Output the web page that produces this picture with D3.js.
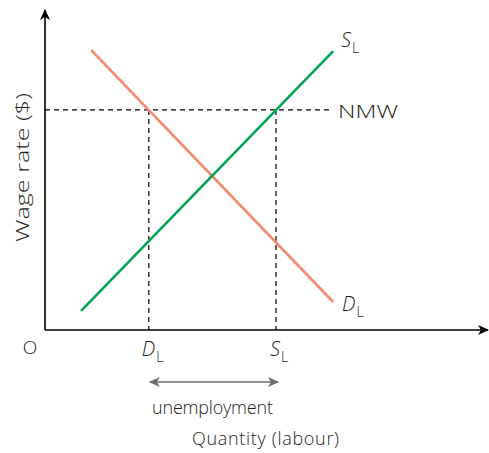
<!DOCTYPE html>
<html><head><meta charset="utf-8">
<script src="https://cdn.jsdelivr.net/npm/d3@7"></script>
<style>body{margin:0;background:#fff}svg{display:block}text{font-family:"Open Sans","Lato",sans-serif;font-weight:300;fill:#231f20}</style>
</head><body>
<script>
const supplyPoints = [[8.2, 6.0], [65.5, 87.7]];
const demandPoints = [[10.5, 88.0], [65.5, 8.8]];
const nmwWage = 69.2;
const qtyDemanded = 23.6;
const qtySupplied = 52.5;
const axisLabels = ["Wage rate ($)", "Quantity (labour)"];

const W = 489, H = 453;
const svg = d3.select("body").append("svg").attr("width", W).attr("height", H);
const x = d3.scaleLinear().domain([0, 100]).range([45, 485]);
const y = d3.scaleLinear().domain([0, 100]).range([330, 12]);

const defs = svg.append("defs");
function marker(id, color) {
  defs.append("marker").attr("id", id).attr("viewBox", "0 0 12 10").attr("refX", 10).attr("refY", 5)
    .attr("markerWidth", 12).attr("markerHeight", 10).attr("markerUnits", "userSpaceOnUse").attr("orient", "auto-start-reverse")
    .append("path").attr("d", "M0,0 L11,5 L0,10 L3,5 Z").attr("fill", color);
}
marker("ab", "#000");
marker("ag", "#6d6e71");

// axes
svg.append("line").attr("x1", x(0)).attr("y1", y(0)).attr("x2", x(0)).attr("y2", 10)
  .attr("stroke", "#000").attr("stroke-width", 1.6).attr("marker-end", "url(#ab)");
svg.append("line").attr("x1", x(0)).attr("y1", y(0)).attr("x2", 488).attr("y2", y(0))
  .attr("stroke", "#000").attr("stroke-width", 1.6).attr("marker-end", "url(#ab)");

// dashed guides
const dash = "5,4";
svg.append("line").attr("x1", x(0)).attr("x2", x(65.3)).attr("y1", y(nmwWage)).attr("y2", y(nmwWage))
  .attr("stroke", "#000").attr("stroke-width", 1.2).attr("stroke-dasharray", dash);
[qtyDemanded, qtySupplied].forEach(q => {
  svg.append("line").attr("x1", x(q)).attr("x2", x(q)).attr("y1", y(nmwWage)).attr("y2", y(0))
    .attr("stroke", "#000").attr("stroke-width", 1.2).attr("stroke-dasharray", dash);
});

const line = d3.line().x(d => x(d[0])).y(d => y(d[1]));
svg.append("path").attr("d", line(demandPoints)).attr("fill", "none").attr("stroke", "#f4896b").attr("stroke-width", 2.6);
svg.append("path").attr("d", line(supplyPoints)).attr("fill", "none").attr("stroke", "#00a651").attr("stroke-width", 2.6);

// labels
function sub(xp, yp, main, s) {
  const t = svg.append("text").attr("x", xp).attr("y", yp).attr("font-size", 20);
  t.append("tspan").attr("font-style", "italic").text(main);
  t.append("tspan").attr("font-size", 14).attr("dy", 6).attr("dx", 1).text(s);
  return t;
}
sub(341, 47, "S", "L");
sub(342, 311, "D", "L");
sub(x(qtyDemanded) - 7, 356, "D", "L");
sub(x(qtySupplied) - 6, 356, "S", "L");
svg.append("text").attr("x", 338).attr("y", 118).attr("font-size", 19)
  .attr("textLength", 60).attr("lengthAdjust", "spacingAndGlyphs").text("NMW");
svg.append("text").attr("x", 30).attr("y", 354).attr("font-size", 19).attr("text-anchor", "middle").text("O");

svg.append("line").attr("x1", x(qtyDemanded) + 1).attr("x2", x(qtySupplied) + 2).attr("y1", 382).attr("y2", 382)
  .attr("stroke", "#6d6e71").attr("stroke-width", 1.6).attr("marker-end", "url(#ag)").attr("marker-start", "url(#ag)");
svg.append("text").attr("x", 152).attr("y", 414).attr("font-size", 18).attr("textLength", 121).text("unemployment");
svg.append("text").attr("x", 192).attr("y", 445).attr("font-size", 18).attr("textLength", 147).text(axisLabels[1]);
svg.append("text").attr("transform", "translate(29,242) rotate(-90)").attr("font-size", 18.5)
  .attr("textLength", 149).attr("lengthAdjust", "spacingAndGlyphs").text(axisLabels[0]);
</script>
</body></html>
